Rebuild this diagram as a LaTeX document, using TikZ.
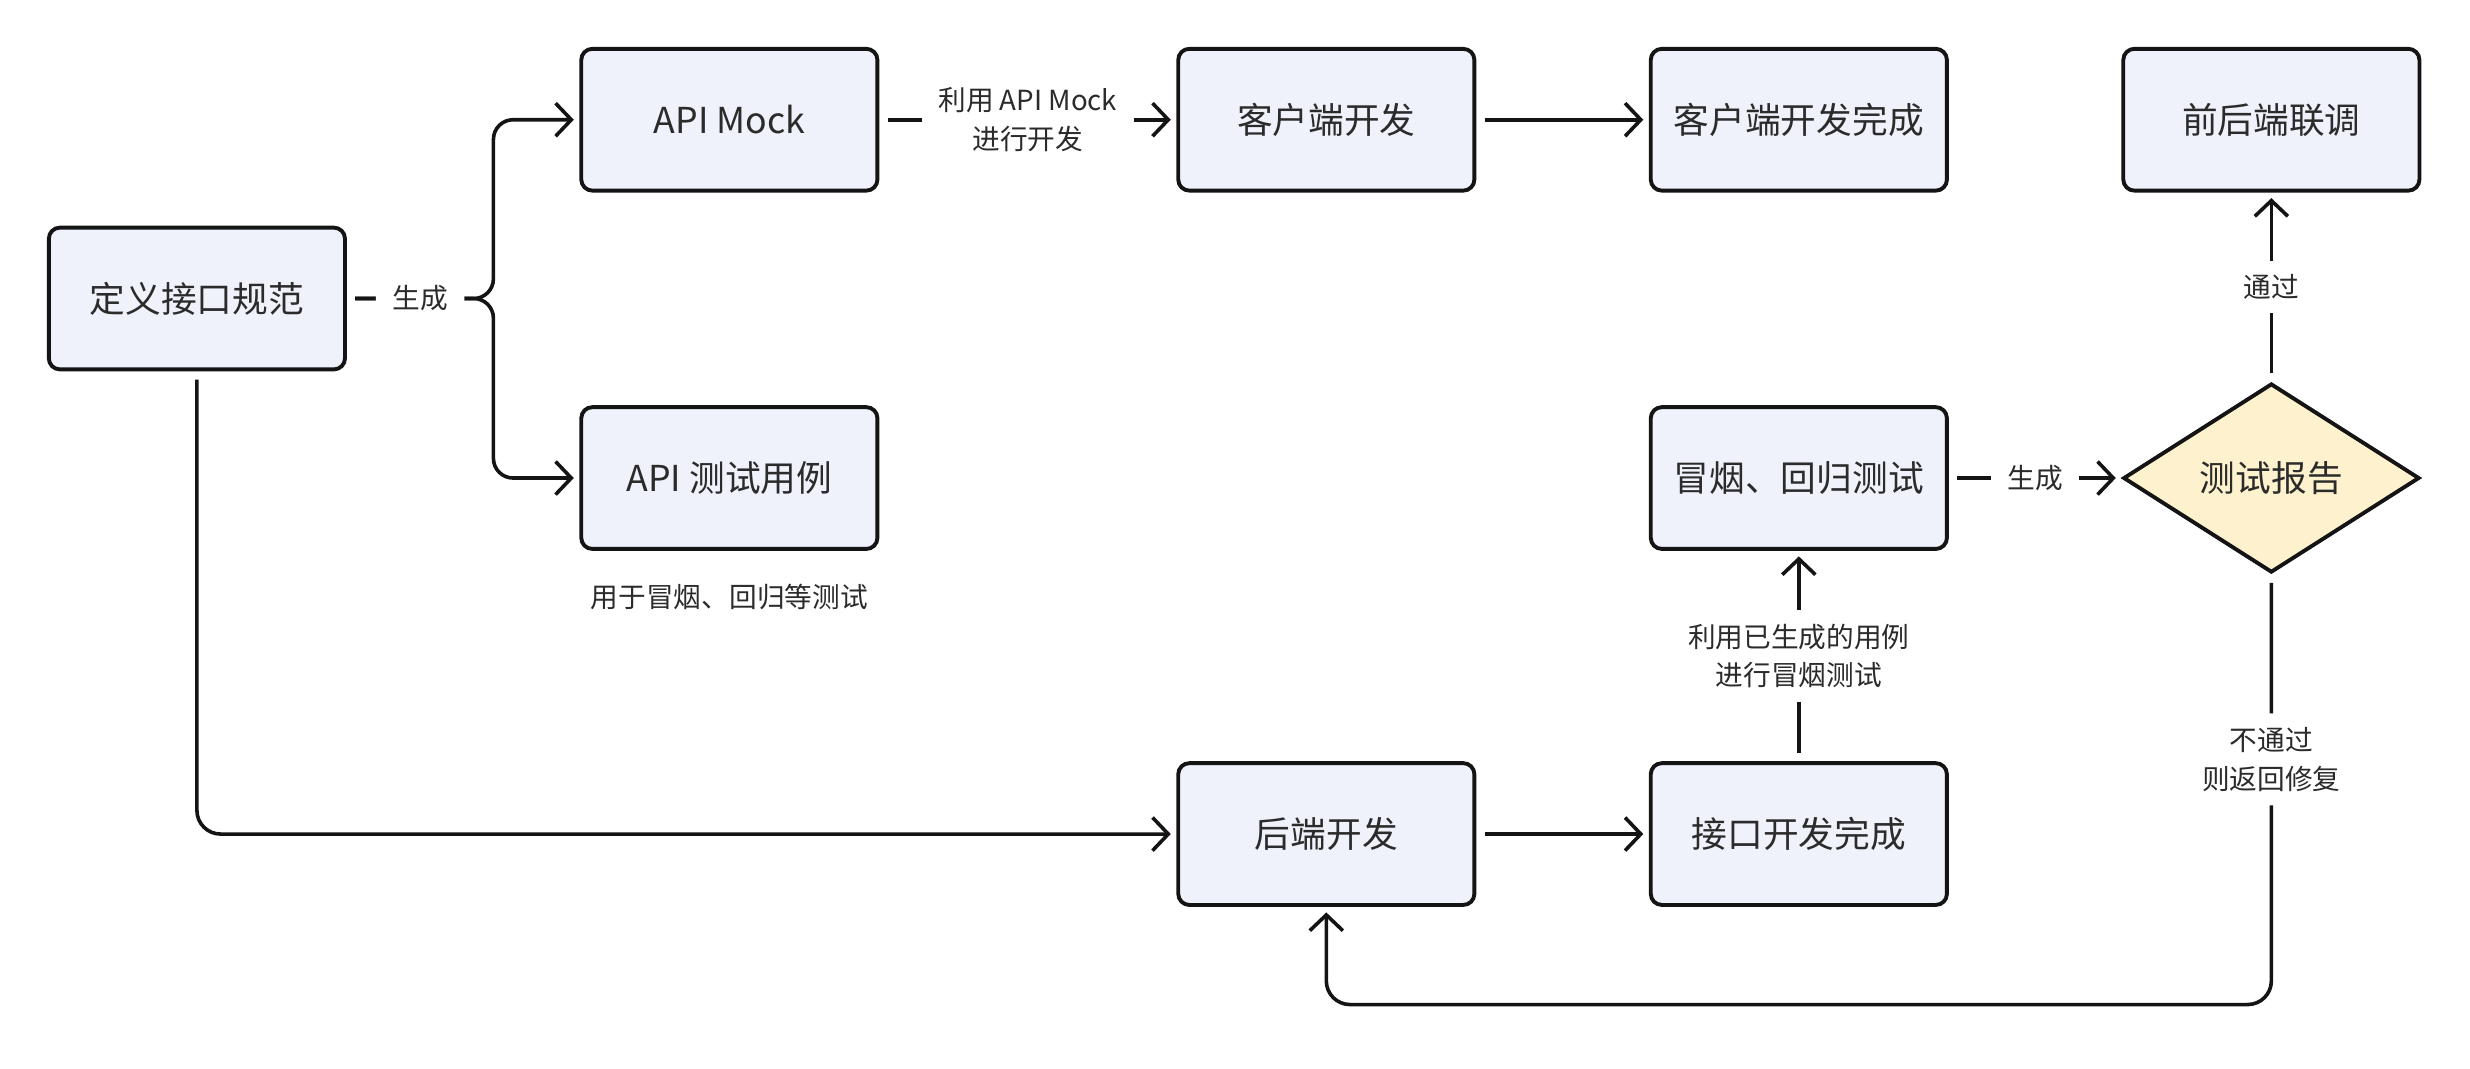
\documentclass[tikz,border=0pt]{standalone}
\usepackage{fontspec}
\setmainfont{Noto Sans CJK SC}
\usepackage{xcolor}
\usetikzlibrary{shapes.geometric, arrows.meta, positioning, calc}
\definecolor{boxfill}{RGB}{239, 242, 250}
\definecolor{reportfill}{RGB}{254, 241, 206}
\definecolor{textgray}{RGB}{43, 43, 43}
\definecolor{edgeblack}{RGB}{20, 20, 20}
\tikzstyle{stepbox} = [rectangle, rounded corners=4pt, minimum width=3.76cm, minimum height=1.8cm, text centered, draw=edgeblack, line width=1.4pt, fill=boxfill, text=textgray, font=\fontsize{12.9}{15}\selectfont]
\tikzstyle{decision} = [diamond, aspect=1.57, inner sep=1pt, minimum width=3.76cm, minimum height=2.4cm, text centered, draw=edgeblack, line width=1.4pt, fill=reportfill, text=textgray, font=\fontsize{12.9}{15}\selectfont]
\tikzstyle{arrow} = [line width=1.3pt, draw=edgeblack, -{Straight Barb[length=2mm, width=4.2mm]}, shorten >=2pt, shorten <=3pt]
\tikzstyle{edgelabel} = [fill=white, align=center, text=textgray, inner xsep=6pt, inner ysep=5pt, font=\fontsize{10}{14}\selectfont]
\tikzstyle{note} = [align=center, text=textgray, font=\fontsize{10}{14}\selectfont]

\begin{document}
\begin{tikzpicture}
\useasboundingbox (0,0) rectangle (31.36,-13.56);

\node (spec) [stepbox] at (2.5,-3.79) {定义接口规范};
\node (mock) [stepbox] at (9.26,-1.52) {API Mock};
\node (cases) [stepbox, below=2.70cm of mock] {API 测试用例};
\node (casenote) [note, below=0.3cm of cases] {用于冒烟、回归等测试};
\node (client) [stepbox, right=3.77cm of mock] {客户端开发};
\node (clientdone) [stepbox, right=2.19cm of client] {客户端开发完成};
\node (joint) [stepbox, right=2.19cm of clientdone] {前后端联调};
\node (smoke) [stepbox, below=2.70cm of clientdone] {冒烟、回归测试};
\node (report) [decision] at (smoke -| joint) {测试报告};
\node (backend) [stepbox, below=7.22cm of client] {后端开发};
\node (ifdone) [stepbox, right=2.19cm of backend] {接口开发完成};

\coordinate (fork) at ($(spec.east)+(1.86,0)$);
\coordinate (retbend) at ([yshift=-5.46cm]report.south);

% Arrows
\draw [arrow, rounded corners=0.25cm] (spec.east) -- (fork) |- (cases.west);
\draw [arrow, rounded corners=0.25cm] (spec.east) -- node[edgelabel] {生成} (fork) |- (mock.west);
\draw [arrow, rounded corners=0.3cm] (spec.south) |- (backend.west);
\draw [arrow] (mock) -- node[edgelabel] {利用 API Mock\\进行开发} (client);
\draw [arrow] (client) -- (clientdone);
\draw [arrow] (backend) -- (ifdone);
\draw [arrow] (ifdone) -- node[edgelabel] {利用已生成的用例\\进行冒烟测试} (smoke);
\draw [arrow] (smoke) -- node[edgelabel] {生成} (report);
\draw [arrow] (report) -- node[edgelabel] {通过} (joint);
\draw [arrow, rounded corners=0.3cm] (report.south) -- node[edgelabel, pos=0.43] {不通过\\则返回修复} (retbend) -| (backend.south);

\end{tikzpicture}
\end{document}
